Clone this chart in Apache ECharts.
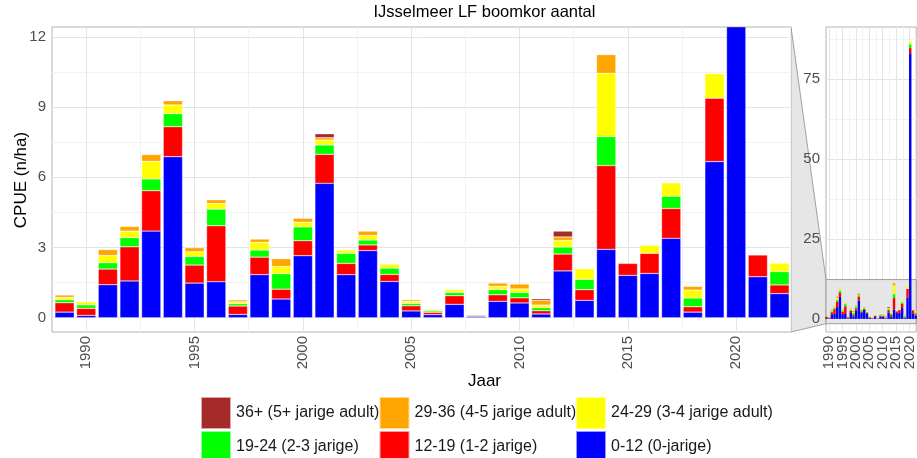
<!DOCTYPE html>
<html><head><meta charset="utf-8">
<script src="https://cdn.jsdelivr.net/npm/echarts@6/dist/echarts.min.js"></script>
<style>html,body{margin:0;padding:0;background:#fff}#c{width:917px;height:458px}</style>
</head><body><div id="c"></div>
<script>
// ---- data ----
const years = [1989,1990,1991,1992,1993,1994,1995,1996,1997,1998,1999,2000,2001,2002,2003,2004,2005,2006,2007,2008,2009,2010,2011,2012,2013,2014,2015,2016,2017,2018,2019,2020,2021,2022];
const len0_12  = [0.24,0.10,1.41,1.57,3.70,6.88,1.48,1.54,0.14,1.84,0.80,2.65,5.74,1.84,2.87,1.55,0.29,0.13,0.57,0.06,0.70,0.63,0.16,2.00,0.74,2.92,1.81,1.89,3.39,0.24,6.67,83.1,1.75,1.03];
const len12_19 = [0.40,0.30,0.67,1.46,1.73,1.28,0.77,2.39,0.36,0.75,0.42,0.64,1.24,0.48,0.24,0.30,0.22,0.10,0.37,0.04,0.28,0.22,0.14,0.72,0.46,3.58,0.51,0.86,1.28,0.23,2.71,1.6,0.93,0.37];
const len19_24 = [0.13,0.15,0.27,0.39,0.50,0.56,0.37,0.71,0.10,0.30,0.66,0.59,0.40,0.43,0.21,0.27,0.10,0.06,0.14,0.03,0.22,0.23,0.13,0.30,0.44,1.24,0,0,0.52,0.37,0,1.2,0,0.57];
const len24_29 = [0.10,0.13,0.31,0.28,0.75,0.37,0.20,0.24,0.08,0.33,0.31,0.20,0.21,0.14,0.19,0.17,0.09,0.06,0.12,0,0.14,0.15,0.11,0.28,0.45,2.70,0,0.34,0.57,0.34,1.05,0.9,0,0.36];
const len29_36 = [0.10,0,0.25,0.20,0.29,0.18,0.17,0.16,0.08,0.14,0.33,0.17,0.10,0,0.19,0,0.07,0.03,0,0,0.14,0.21,0.20,0.15,0,0.80,0,0,0,0.16,0,0,0,0];
const len36p   = [0,0,0,0,0,0,0,0,0,0,0,0,0.17,0,0,0,0,0,0,0.02,0,0,0.07,0.25,0,0,0,0,0,0,0,0,0,0];

const seriesNames = ["0-12 (0-jarige)","12-19 (1-2 jarige)","19-24 (2-3 jarige)","24-29 (3-4 jarige adult)","29-36 (4-5 jarige adult)","36+ (5+ jarige adult)"];
const seriesValues = [len0_12,len12_19,len19_24,len24_29,len29_36,len36p];
const seriesColors = ["#0000ff","#ff0000","#00ff00","#ffff00","#ffa500","#a52a2a"];

const xTickLabels = [1990,1995,2000,2005,2010,2015,2020];
const xMinorTicks = [1992.5,1997.5,2002.5,2007.5,2012.5,2017.5,2022.5];
const insetXLabelsA = [1990,2000,2010,2020];
const insetXLabelsB = [1995,2005,2015];
const xMinorTicksInset = [1992.5,1997.5,2002.5,2007.5,2012.5,2017.5];
const mainYTicks = [0,3,6,9,12];
const mainYMinor = [1.5,4.5,7.5,10.5];
const insetYTicks = [0,25,50,75];
const insetYMinor = [12.5,37.5,62.5,87.5];

const titleText = "IJsselmeer LF boomkor aantal";
const xTitle = "Jaar";
const yTitle = "CPUE (n/ha)";

// ---- layout constants ----
const W = 917, H = 458;
const MAIN = {l:52, r:791, t:27, b:332}, INSET = {l:826, r:918, t:27, b:332};
const MX = [1988.42, 2022.53], MY = [-0.61, 12.42];
const IX = [1988.85, 2022.5], IY = [-4.1, 91.3];
const BAND = [-1.5, 12.3];
const FONT = "'Liberation Sans', Arial, sans-serif";
const TXT = '#4d4d4d';

function frameGrid(p) { return {left:p.l, top:p.t, right:W-p.r, bottom:H-p.b, show:true, borderColor:'#b3b3b3', borderWidth:1, backgroundColor:'transparent'}; }
function barGrid(p, ext) {
  const s = (p.r - p.l) / (ext[1] - ext[0]);
  const l = p.l + (years[0] - 0.5 - ext[0]) * s;
  const r = p.l + (years[years.length-1] + 0.5 - ext[0]) * s;
  return {left:l, top:p.t, right:W-r, bottom:H-p.b, show:false};
}
const xLabelStyle = (labels, fs) => ({customValues:labels, rotate:90, fontSize:fs, color:TXT, fontFamily:FONT, margin:4,
  showMinLabel:true, showMaxLabel:true, hideOverlap:false, formatter:v => String(v)});
function xAxisPair(grid, ext, majors, labelsA, labelsB, minor, fs) {
  return [{
    type:'value', gridIndex:grid, min:ext[0], max:ext[1],
    axisLine:{show:false}, axisTick:{show:false, customValues:majors},
    axisLabel:xLabelStyle(labelsA, fs),
    splitLine:{show:true, lineStyle:{color:'#e4e4e4', width:1}}
  },{
    type:'value', gridIndex:grid, min:ext[0], max:ext[1], position:'bottom',
    axisLine:{show:false}, axisTick:{show:false, customValues:minor},
    axisLabel: labelsB ? xLabelStyle(labelsB, fs) : {show:false},
    splitLine:{show:true, lineStyle:{color:'#f2f2f2', width:1}}
  }];
}
function yAxisPair(grid, ext, labels, minor, fs) {
  return [{
    type:'value', gridIndex:grid, min:ext[0], max:ext[1],
    axisLine:{show:false}, axisTick:{show:false, customValues:labels},
    axisLabel:{customValues:labels, fontSize:fs, color:TXT, fontFamily:FONT, margin:6, showMinLabel:true, showMaxLabel:true},
    splitLine:{show:true, lineStyle:{color:'#e4e4e4', width:1}}
  },{
    type:'value', gridIndex:grid, min:ext[0], max:ext[1], position:'left',
    axisLine:{show:false}, axisTick:{show:false, customValues:minor},
    axisLabel:{show:false},
    splitLine:{show:true, lineStyle:{color:'#f2f2f2', width:1}}
  }];
}
const hiddenCat = g => ({type:'category', gridIndex:g, data:years.map(String), boundaryGap:true,
  axisLine:{show:false}, axisTick:{show:false}, axisLabel:{show:false}, splitLine:{show:false}});
const hiddenVal = (g, ext) => ({type:'value', gridIndex:g, min:ext[0], max:ext[1],
  axisLine:{show:false}, axisTick:{show:false}, axisLabel:{show:false}, splitLine:{show:false}});

const series = [];
seriesNames.forEach((name, k) => {
  const vals = seriesValues[k];
  const d = vals.map(v => v > 0 ? v : '-');
  series.push({
    type:'bar', name, xAxisIndex:4, yAxisIndex:4, stack:'main', barWidth:'89%',
    itemStyle:{color:seriesColors[k], borderColor:'rgba(255,255,255,0.6)', borderWidth:0.5},
    data:d, z:3
  });
  series.push({
    type:'bar', name, xAxisIndex:5, yAxisIndex:5, stack:'inset', barWidth:'90%',
    itemStyle:{color:seriesColors[k]},
    data:d, z:3
  });
});
// zoom band in inset (behind the bars)
series.push({
  type:'line', xAxisIndex:2, yAxisIndex:2, data:[], z:1, silent:true,
  markArea:{silent:true, itemStyle:{color:'#e6e6e6', borderColor:'#8c8c8c', borderWidth:0.8},
    data:[[{xAxis:IX[0], yAxis:BAND[0]},{xAxis:IX[1], yAxis:BAND[1]}]]}
});

// legend: 2 rows x 3 columns
const legendOrder = [5,4,3,2,1,0];
const legendLefts = [200, 378.5, 575];
const legendTops = [396, 430];
const legends = legendOrder.map((k, i) => ({
  left:legendLefts[i % 3], top:legendTops[Math.floor(i / 3)], itemWidth:30, itemHeight:32,
  icon:'rect', selectedMode:false, padding:0,
  textStyle:{fontSize:16, color:'#1a1a1a', fontFamily:FONT},
  data:[seriesNames[k]]
}));

const chart = echarts.init(document.getElementById('c'), null, {renderer:'canvas'});
const baseGraphic = [
  {id:'title', type:'text', x:484.5, y:12, style:{text:titleText, fontSize:16.5, fill:'#000', fontFamily:FONT, textAlign:'center', textVerticalAlign:'middle'}},
  {id:'xt', type:'text', x:484.5, y:381, style:{text:xTitle, fontSize:17, fill:'#000', fontFamily:FONT, textAlign:'center', textVerticalAlign:'middle'}},
  {id:'yt', type:'text', x:21.5, y:180, rotation:Math.PI/2, style:{text:yTitle, fontSize:17, fill:'#000', fontFamily:FONT, textAlign:'center', textVerticalAlign:'middle'}}
];
chart.setOption({
  animation:false,
  backgroundColor:'#fff',
  grid:[frameGrid(MAIN), frameGrid(INSET), barGrid(MAIN, MX), barGrid(INSET, IX)],
  xAxis:[...xAxisPair(0, MX, xTickLabels, xTickLabels, null, xMinorTicks, 15),
         ...xAxisPair(1, IX, xTickLabels, insetXLabelsA, insetXLabelsB, xMinorTicksInset, 15),
         hiddenCat(2), hiddenCat(3)],
  yAxis:[...yAxisPair(0, MY, mainYTicks, mainYMinor, 15), ...yAxisPair(1, IY, insetYTicks, insetYMinor, 15), hiddenVal(2, MY), hiddenVal(3, IY)],
  legend: legends,
  series,
  graphic: baseGraphic
});

// connector between main panel and inset zoom band
const p1 = chart.convertToPixel({xAxisIndex:0, yAxisIndex:0}, [MX[1], MY[1]]);
const p2 = chart.convertToPixel({xAxisIndex:0, yAxisIndex:0}, [MX[1], MY[0]]);
const p3 = chart.convertToPixel({xAxisIndex:2, yAxisIndex:2}, [IX[0], BAND[1]]);
const p4 = chart.convertToPixel({xAxisIndex:2, yAxisIndex:2}, [IX[0], BAND[0]]);
chart.setOption({graphic: baseGraphic.concat([
  {id:'conn', type:'polygon', z:-1, shape:{points:[p1,p3,p4,p2]}, style:{fill:'#e6e6e6', stroke:null}},
  {id:'connTop', type:'line', shape:{x1:p1[0],y1:p1[1],x2:p3[0],y2:p3[1]}, style:{stroke:'#8c8c8c', lineWidth:0.8}},
  {id:'connBot', type:'line', shape:{x1:p2[0],y1:p2[1],x2:p4[0],y2:p4[1]}, style:{stroke:'#8c8c8c', lineWidth:0.8}}
])});
</script></body></html>
